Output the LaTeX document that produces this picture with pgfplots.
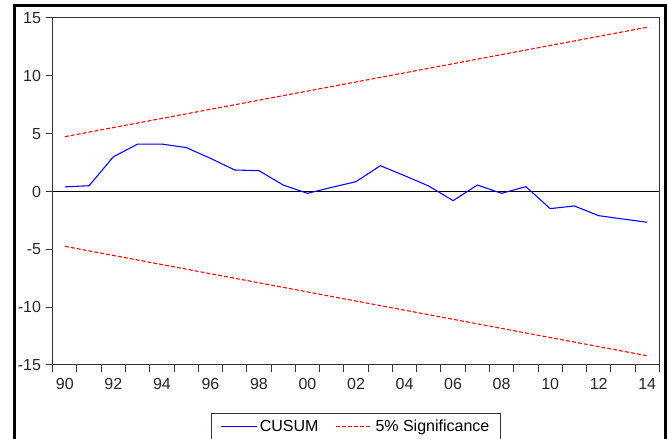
\documentclass[border=0pt]{standalone}
\usepackage{fontspec}
\setmainfont{Liberation Sans}
\usepackage{pgfplots}
\pgfplotsset{compat=1.18}
\begin{document}
\begin{tikzpicture}
\useasboundingbox (0,0) rectangle (501pt,329.25pt);
\draw[line width=2.25pt] (10.5pt,-10pt) rectangle (499.1pt,325.1pt);
\begin{axis}[
  at={(39.525pt,55.5pt)}, anchor=south west,
  scale only axis, width=455pt, height=260.25pt,
  xmin=1989.5, xmax=2014.5, ymin=-15, ymax=15,
  xtick={1990,1992,...,2014},
  xticklabels={90,92,94,96,98,00,02,04,06,08,10,12,14},
  minor xtick={1989.5,1990.5,...,2014.5},
  ytick={-15,-10,...,15},
  yticklabels={-15,-10,-5,0,5,10,15},
  tick align=outside, xtick pos=bottom, ytick pos=left,
  major tick length=5.25pt, minor tick length=5.25pt,
  tick style={black!80, line width=0.75pt},
  major x tick style={draw=none},
  axis line style={black!80, line width=0.75pt},
  ticklabel style={font=\fontsize{12}{14}\selectfont, text=black!85},
  xticklabel style={yshift=-1.5pt},
  legend style={at={(0.5,-0.1383)}, anchor=north, draw=black!80, line width=0.75pt,
    font=\fontsize{12}{14}\selectfont, legend columns=2, inner xsep=6.5pt, inner ysep=3pt,
    /tikz/every even column/.append style={column sep=11pt}},
  legend cell align=left,
  legend image code/.code={\draw[#1] (0pt,0pt) -- (23pt,0pt); \path (0pt,0pt) -- (27pt,0pt);},
]
\addplot[draw=black, line width=0.75pt, forget plot] coordinates {(1989.5,0) (2014.5,0)};
\addplot[draw=blue, line width=0.8pt] coordinates {
(1990,0.40) (1991,0.50) (1992,3.00) (1993,4.10) (1994,4.10) (1995,3.80)
(1996,2.87) (1997,1.86) (1998,1.80) (1999,0.56) (2000,-0.16) (2001,0.36)
(2002,0.85) (2003,2.23) (2004,1.37) (2005,0.47) (2006,-0.79) (2007,0.56)
(2008,-0.16) (2009,0.42) (2010,-1.48) (2011,-1.25) (2012,-2.09) (2013,-2.38)
(2014,-2.66)};
\addlegendentry{CUSUM}
\addplot[draw=red, line width=0.8pt, dash pattern=on 3pt off 1.5pt] coordinates {(1990,4.74) (2014,14.20)};
\addlegendentry{5\% Significance}
\addplot[draw=red, line width=0.8pt, dash pattern=on 3pt off 1.5pt, forget plot] coordinates {(1990,-4.74) (2014,-14.20)};
\end{axis}
\end{tikzpicture}
\end{document}
